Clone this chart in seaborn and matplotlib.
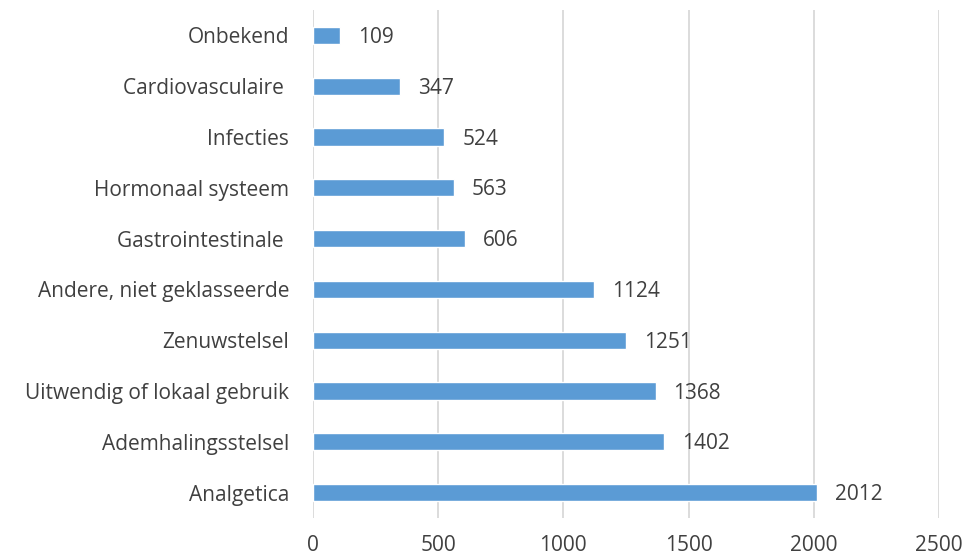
import matplotlib
matplotlib.use("Agg")
import matplotlib.pyplot as plt
import seaborn as sns
import pandas as pd

categories = [
    "Onbekend",
    "Cardiovasculaire ",
    "Infecties",
    "Hormonaal systeem",
    "Gastrointestinale ",
    "Andere, niet geklasseerde",
    "Zenuwstelsel",
    "Uitwendig of lokaal gebruik",
    "Ademhalingsstelsel",
    "Analgetica",
]
counts = [109, 347, 524, 563, 606, 1124, 1251, 1368, 1402, 2012]
x_ticks = [0, 500, 1000, 1500, 2000, 2500]

df = pd.DataFrame({"categorie": categories, "aantal": counts})

sns.set_theme(style="white")
plt.rcParams["font.family"] = ["Open Sans", "DejaVu Sans"]

text_color = "#404040"
fs = 15
fig = plt.figure(figsize=(9.66, 5.58), dpi=100)
ax = fig.add_axes([0.324, 0.0717, 0.648, 0.9103])

sns.barplot(data=df, x="aantal", y="categorie", order=categories,
            color="#5B9BD5", saturation=1, width=0.34, ax=ax)

for i, v in enumerate(counts):
    ax.text(v + 72, i + 0.04, f"{v}", va="center", ha="left",
            fontsize=fs, color=text_color)

ax.set_xlim(0, 2500)
ax.set_ylim(len(categories) - 0.5, -0.5)
ax.set_xticks(x_ticks)
ax.set_xticklabels([str(t) for t in x_ticks], fontsize=fs, color=text_color)
ax.tick_params(axis="y", labelsize=fs, labelcolor=text_color, length=0, pad=17)
ax.tick_params(axis="x", length=0, pad=12)
ax.xaxis.grid(True, color="#D9D9D9", linewidth=1.3)
ax.set_axisbelow(True)
for s in ax.spines.values():
    s.set_visible(False)
ax.set_xlabel("")
ax.set_ylabel("")

fig.savefig("out.png", dpi=100)
